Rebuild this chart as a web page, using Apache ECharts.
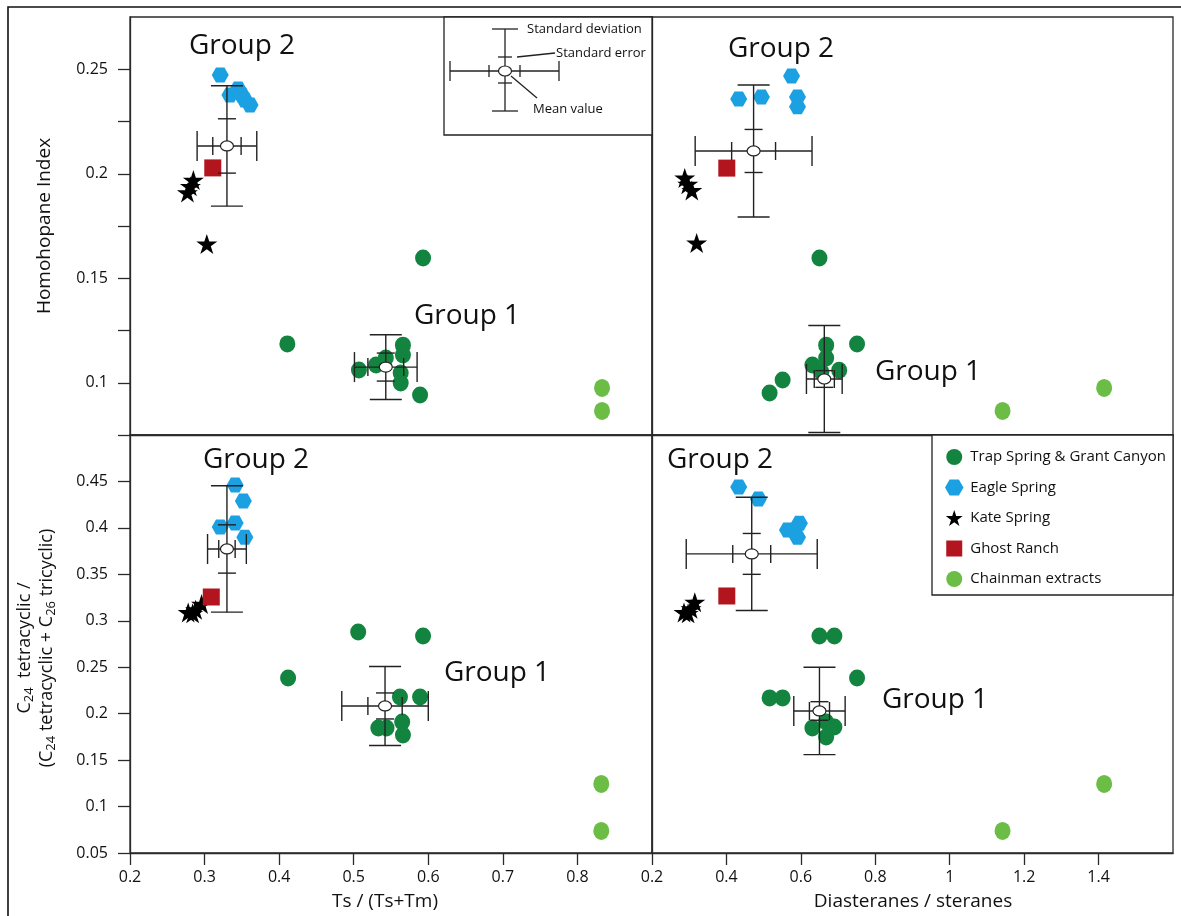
<!DOCTYPE html>
<html>
<head>
<meta charset="utf-8">
<script src="https://cdn.jsdelivr.net/npm/echarts@6/dist/echarts.min.js"></script>
<style>
html,body{margin:0;padding:0;background:#fff;}
#chart{width:1181px;height:916px;}
</style>
</head>
<body>
<div id="chart"></div>
<script>
// ---------------- DATA ----------------
const seriesNames = ['Trap Spring & Grant Canyon', 'Eagle Spring', 'Kate Spring', 'Ghost Ranch', 'Chainman extracts'];

// Top-left: Ts/(Ts+Tm) vs Homohopane Index
const trapTL  = [[0.411,0.1186],[0.593,0.1597],[0.507,0.1061],[0.530,0.1085],[0.543,0.1118],[0.566,0.1180],[0.566,0.1133],[0.563,0.1047],[0.563,0.0999],[0.589,0.0941]];
const eagleTL = [[0.321,0.2473],[0.345,0.2405],[0.334,0.2377],[0.350,0.2377],[0.361,0.2329],[0.354,0.2353]];
const kateTL  = [[0.277,0.1910],[0.285,0.1970],[0.281,0.1940],[0.303,0.1664]];
const ghostTL = [[0.311,0.2028]];
const chainTL = [[0.833,0.0975],[0.833,0.0865]];
const statsTL = [[0.330,0.2133,0.040,0.0288,0.019,0.0130],[0.543,0.1075,0.042,0.0155,0.024,0.0067]];

// Top-right: Diasteranes/steranes vs Homohopane Index
const trapTR  = [[0.650,0.1597],[0.751,0.1185],[0.668,0.1180],[0.631,0.1085],[0.668,0.1118],[0.703,0.1060],[0.551,0.1013],[0.516,0.0951],[0.655,0.1052]];
const eagleTR = [[0.575,0.2468],[0.433,0.2358],[0.494,0.2367],[0.591,0.2367],[0.591,0.2320]];
const kateTR  = [[0.288,0.1980],[0.296,0.1950],[0.307,0.1920],[0.320,0.1669]];
const ghostTR = [[0.401,0.2027]];
const chainTR = [[1.142,0.0865],[1.415,0.0975]];
const statsTR = [[0.473,0.2109,0.157,0.0316,0.059,0.0103],[0.663,0.1018,0.048,0.0256,0.027,0.0040]];

// Bottom-left: Ts/(Ts+Tm) vs C24 tetracyclic ratio
const trapBL  = [[0.506,0.2880],[0.593,0.2836],[0.412,0.2384],[0.562,0.2180],[0.589,0.2180],[0.533,0.1846],[0.544,0.1846],[0.565,0.1910],[0.566,0.1770]];
const eagleBL = [[0.341,0.4462],[0.352,0.4290],[0.321,0.4010],[0.341,0.4053],[0.354,0.3900]];
const kateBL  = [[0.278,0.3090],[0.284,0.3080],[0.288,0.3120],[0.296,0.3180]];
const ghostBL = [[0.309,0.3256]];
const chainBL = [[0.832,0.1243],[0.832,0.0737]];
const statsBL = [[0.330,0.3773,0.026,0.068,0.011,0.026],[0.542,0.2083,0.058,0.0425,0.023,0.014]];

// Bottom-right: Diasteranes/steranes vs C24 tetracyclic ratio
const trapBR  = [[0.650,0.2836],[0.690,0.2836],[0.751,0.2384],[0.516,0.2170],[0.551,0.2170],[0.631,0.1846],[0.668,0.1910],[0.690,0.1857],[0.668,0.1750]];
const eagleBR = [[0.433,0.4440],[0.486,0.4310],[0.564,0.3977],[0.596,0.4050],[0.591,0.3900]];
const kateBR  = [[0.286,0.3090],[0.297,0.3080],[0.305,0.3130],[0.315,0.3200]];
const ghostBR = [[0.401,0.3267]];
const chainBR = [[1.142,0.0737],[1.415,0.1243]];
const statsBR = [[0.468,0.372,0.176,0.061,0.051,0.022],[0.650,0.2029,0.069,0.047,0.027,0.010]];

// Axis ticks / labels
const xTicksTs   = [0.2,0.3,0.4,0.5,0.6,0.7,0.8];
const xTicksDia  = [0.2,0.4,0.6,0.8,1,1.2,1.4];
const yTicksHH   = [0.1,0.125,0.15,0.175,0.2,0.225,0.25];
const yLabelsHH  = [0.1,0.15,0.2,0.25];
const yTicksC24  = [0.05,0.1,0.15,0.2,0.25,0.3,0.35,0.4,0.45,0.5];
const yLabelsC24 = [0.05,0.1,0.15,0.2,0.25,0.3,0.35,0.4,0.45];

const groupLabels = [
  ['Group 2',242,46],['Group 1',467,316],
  ['Group 2',781,49],['Group 1',928,372],
  ['Group 2',256,460],['Group 1',497,673],
  ['Group 2',720,460],['Group 1',935,700]
];

// ---------------- STYLE ----------------
const FONT = 'Open Sans';
const TXT = '#111';
const colors = ['#13843f','#1ba0e2','#000000','#b3151f','#6cbd45'];
const hexPath  = 'path://M-1,0 L-0.5,-0.866 L0.5,-0.866 L1,0 L0.5,0.866 L-0.5,0.866 Z';
const starPath = 'path://M0,-1 L0.2245,-0.309 L0.951,-0.309 L0.363,0.118 L0.588,0.809 L0,0.382 L-0.588,0.809 L-0.363,0.118 L-0.951,-0.309 L-0.2245,-0.309 Z';
const squarePath = 'path://M0,0 L1,0 L1,1 L0,1 Z';
const symbols = ['circle', hexPath, starPath, squarePath, 'circle'];
const sizes = [[16,17],[17,15],[21,20],[17,17],[16,18]];

const AX = '#2a2a2a';
const gridDefs = [
  {left:130, top:17,  width:522, height:418},
  {left:652, top:17,  width:521, height:418},
  {left:130, top:435, width:522, height:418},
  {left:652, top:435, width:521, height:418}
];

function xAxisDef(gi, min, max, ticks) {
  return {
    type:'value', gridIndex:gi, min:min, max:max, position:'bottom',
    splitLine:{show:false},
    axisLine:{show:true, onZero:false, lineStyle:{color:AX, width:1.3}},
    axisTick: ticks ? {show:true, inside:false, length:12, customValues:ticks, lineStyle:{color:AX, width:1.3}} : {show:false},
    axisLabel: ticks ? {show:true, customValues:ticks, margin:16, fontSize:16, fontFamily:FONT, color:TXT} : {show:false}
  };
}
function yAxisDef(gi, min, max, ticks, labels) {
  return {
    type:'value', gridIndex:gi, min:min, max:max,
    splitLine:{show:false},
    axisLine:{show:true, onZero:false, lineStyle:{color:AX, width:1.3}},
    axisTick: ticks ? {show:true, inside:false, length:12, customValues:ticks, lineStyle:{color:AX, width:1.3}} : {show:false},
    axisLabel: labels ? {show:true, customValues:labels, margin:22, fontSize:16, fontFamily:FONT, color:TXT} : {show:false}
  };
}

function renderErr(params, api) {
  const x = api.value(0), y = api.value(1);
  const sdx = api.value(2), sdy = api.value(3), sex = api.value(4), sey = api.value(5);
  const c = api.coord([x, y]);
  const yT = api.coord([x, y + sdy])[1], yB = api.coord([x, y - sdy])[1];
  const ysT = api.coord([x, y + sey])[1], ysB = api.coord([x, y - sey])[1];
  const xL = api.coord([x - sdx, y])[0], xR = api.coord([x + sdx, y])[0];
  const xsL = api.coord([x - sex, y])[0], xsR = api.coord([x + sex, y])[0];
  const st = {stroke:'#222', lineWidth:1.4};
  const L = (x1,y1,x2,y2) => ({type:'line', shape:{x1,y1,x2,y2}, style:st});
  const cx = c[0], cy = c[1];
  return {
    type:'group',
    children:[
      L(cx,yT,cx,yB), L(xL,cy,xR,cy),
      L(cx-16,yT,cx+16,yT), L(cx-16,yB,cx+16,yB),
      L(cx-9,ysT,cx+9,ysT), L(cx-9,ysB,cx+9,ysB),
      L(xL,cy-15,xL,cy+15), L(xR,cy-15,xR,cy+15),
      L(xsL,cy-9,xsL,cy+9), L(xsR,cy-9,xsR,cy+9),
      {type:'ellipse', shape:{cx:cx, cy:cy, rx:6.5, ry:5}, style:{fill:'#fff', stroke:'#222', lineWidth:1.2}}
    ]
  };
}

const panels = [
  [trapTL, eagleTL, kateTL, ghostTL, chainTL, statsTL],
  [trapTR, eagleTR, kateTR, ghostTR, chainTR, statsTR],
  [trapBL, eagleBL, kateBL, ghostBL, chainBL, statsBL],
  [trapBR, eagleBR, kateBR, ghostBR, chainBR, statsBR]
];

const series = [];
panels.forEach((p, gi) => {
  for (let k = 0; k < 5; k++) {
    series.push({
      type:'scatter', name:seriesNames[k], xAxisIndex:gi, yAxisIndex:gi,
      data:p[k], symbol:symbols[k], symbolSize:sizes[k], symbolKeepAspect:false,
      itemStyle:{color:colors[k], opacity:1}, z:2, silent:true
    });
  }
  series.push({
    type:'custom', name:'stats', xAxisIndex:gi, yAxisIndex:gi,
    data:p[5], renderItem:renderErr, encode:{x:0, y:1}, z:5, silent:true
  });
});

// graphic: frame, titles, group labels, error-bar key, legend box
const graphic = [];
graphic.push({type:'rect', shape:{x:8, y:7, width:1220, height:960}, style:{fill:'none', stroke:'#111', lineWidth:1.6}, z:-1});
groupLabels.forEach(g => graphic.push({type:'text', x:g[1], y:g[2], style:{text:g[0], font:'28px "Open Sans"', fill:TXT, align:'center', verticalAlign:'middle'}}));

// axis titles
graphic.push({type:'text', x:385, y:902, style:{text:'Ts / (Ts+Tm)', font:'19px "Open Sans"', fill:TXT, align:'center', verticalAlign:'middle'}});
graphic.push({type:'text', x:913, y:902, style:{text:'Diasteranes / steranes', font:'19px "Open Sans"', fill:TXT, align:'center', verticalAlign:'middle'}});
graphic.push({type:'text', x:45, y:226, rotation:Math.PI/2, style:{text:'Homohopane Index', font:'19px "Open Sans"', fill:TXT, align:'center', verticalAlign:'middle'}});
graphic.push({type:'text', x:36, y:648, rotation:Math.PI/2, style:{
  text:'{n|C}{s|24}{n|  tetracyclic /}\n{n|(C}{s|24}{n| tetracyclic + C}{s|26}{n| tricyclic)}',
  align:'center', verticalAlign:'middle',
  rich:{
    n:{fontSize:18, fontFamily:FONT, fill:TXT, lineHeight:22, verticalAlign:'middle'},
    s:{fontSize:13, fontFamily:FONT, fill:TXT, lineHeight:22, verticalAlign:'bottom', padding:[8,0,0,0]}
  }
}});

// error-bar key box
const kst = {stroke:'#222', lineWidth:1.3};
const KL = (x1,y1,x2,y2) => ({type:'line', shape:{x1,y1,x2,y2}, style:kst});
graphic.push({type:'rect', shape:{x:444, y:17, width:208, height:118}, style:{fill:'#fff', stroke:'#222', lineWidth:1.3}, z:1});
[
  KL(505,29,505,111), KL(492,29,518,29), KL(492,111,518,111), KL(498,57,512,57), KL(498,83,512,83),
  KL(450,71,559,71), KL(450,61,450,81), KL(559,61,559,81), KL(489,65,489,77), KL(520,65,520,77),
  KL(517,57,555,53), KL(511,76,537,98)
].forEach(e => { e.z = 2; graphic.push(e); });
graphic.push({type:'ellipse', shape:{cx:505, cy:71, rx:6.5, ry:5}, style:{fill:'#fff', stroke:'#222', lineWidth:1.2}, z:3});
graphic.push({type:'text', x:527, y:29, style:{text:'Standard deviation', font:'13px "Open Sans"', fill:TXT, align:'left', verticalAlign:'middle'}, z:3});
graphic.push({type:'text', x:556, y:53, style:{text:'Standard error', font:'13px "Open Sans"', fill:TXT, align:'left', verticalAlign:'middle'}, z:3});
graphic.push({type:'text', x:533, y:109, style:{text:'Mean value', font:'13px "Open Sans"', fill:TXT, align:'left', verticalAlign:'middle'}, z:3});

// legend box
graphic.push({type:'rect', shape:{x:932, y:435, width:241, height:160}, style:{fill:'#fff', stroke:'#222', lineWidth:1.3}, z:1});

const chart = echarts.init(document.getElementById('chart'), null, {renderer:'canvas'});
chart.setOption({
  animation:false,
  backgroundColor:'#fff',
  textStyle:{fontFamily:FONT},
  grid: gridDefs.map(g => Object.assign({show:true, borderColor:AX, borderWidth:1.3, backgroundColor:'transparent'}, g)),
  xAxis:[
    xAxisDef(0, 0.2, 0.9, null),
    xAxisDef(1, 0.2, 1.6, null),
    xAxisDef(2, 0.2, 0.9, xTicksTs),
    xAxisDef(3, 0.2, 1.6, xTicksDia)
  ],
  yAxis:[
    yAxisDef(0, 0.075, 0.275, yTicksHH, yLabelsHH),
    yAxisDef(1, 0.075, 0.275, null, null),
    yAxisDef(2, 0.05, 0.5, yTicksC24, yLabelsC24),
    yAxisDef(3, 0.05, 0.5, null, null)
  ],
  legend:{
    data: seriesNames.map((n, i) => ({name:n, icon: symbols[i]})),
    orient:'vertical', left:940, top:444, itemGap:14.5, itemWidth:22, itemHeight:16,
    textStyle:{fontSize:15, fontFamily:FONT, color:TXT}, selectedMode:false, z:10
  },
  graphic: graphic,
  series: series
});
</script>
</body>
</html>
